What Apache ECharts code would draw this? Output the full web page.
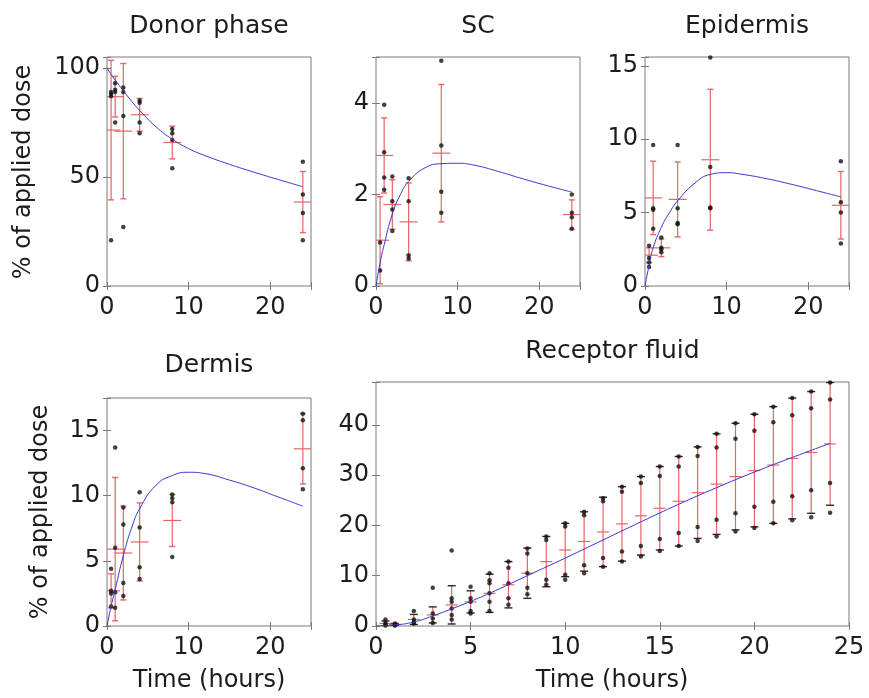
<!DOCTYPE html>
<html>
<head>
<meta charset="utf-8">
<script src="https://cdn.jsdelivr.net/npm/echarts@6/dist/echarts.min.js"></script>
<style>
  html, body { margin: 0; background: #fff; }
  #chart { width: 869px; height: 698px; }
</style>
</head>
<body>
<div id="chart"></div>
<script>
// sampling times (hours)
const skinTimes = [0.5, 1, 2, 4, 8, 24];
const skinFitTimes = [0, 0.5, 1, 2, 3, 4, 6, 8, 10, 12, 15, 18, 21, 24];
const rfTimes = [0.5, 1, 2, 3, 4, 5, 6, 7, 8, 9, 10, 11, 12, 13, 14, 15, 16, 17, 18, 19, 20, 21, 22, 23, 24];
const rfFitTimes = [0, 1, 2, 3, 4, 5, 6, 8, 10, 12, 14, 16, 18, 20, 22, 24];

// donor phase
const donorPoints = [[89, 87, 88, 21], [93, 90, 89, 75], [91, 89, 78, 27], [85, 84, 75, 70], [72, 70, 67, 54], [57, 42, 33.5, 21]];
const donorMean = [71.5, 86.8, 71, 78.5, 65.8, 38.5];
const donorSd = [32, 9.3, 31, 7.5, 7.5, 14];
const donorFit = [100, 97, 94.5, 89.5, 84.8, 80.5, 73, 67.3, 63, 59.8, 55.8, 52.2, 48.8, 45.5];

// stratum corneum
const scPoints = [[0.34, 0.95], [3.96, 2.92, 2.37, 2.1], [2.39, 1.85, 1.67, 1.2], [2.35, 1.85, 0.67, 0.6], [4.92, 3.07, 2.06, 1.6], [2.0, 1.6, 1.5, 1.25]];
const scMean = [1.0, 2.85, 1.78, 1.4, 2.9, 1.56];
const scSd = [0.95, 0.82, 0.54, 0.85, 1.5, 0.32];
const scFit = [0, 0.5, 0.9, 1.57, 2.0, 2.28, 2.58, 2.67, 2.68, 2.64, 2.5, 2.34, 2.19, 2.05];

// epidermis
const epiPoints = [[2.75, 1.9, 1.6, 1.3], [9.6, 5.3, 5.2, 3.9], [3.3, 2.6, 2.5, 2.3], [9.6, 5.3, 4.3, 4.2], [15.56, 8.1, 5.35, 5.3], [8.5, 5.7, 5.0, 2.9]];
const epiMean = [2.1, 6.0, 2.6, 5.9, 8.6, 5.5];
const epiSd = [0.5, 2.5, 0.6, 2.55, 4.8, 2.3];
const epiFit = [0, 1.4, 2.6, 4.0, 5.0, 5.8, 6.95, 7.6, 7.72, 7.6, 7.3, 6.92, 6.5, 6.07];

// dermis
const dermPoints = [[4.4, 2.7, 2.5, 1.5], [13.7, 6.0, 2.6, 1.4], [9.1, 7.8, 3.3, 2.3], [10.26, 7.56, 4.5, 3.6], [10.1, 9.8, 9.5, 5.3], [16.3, 15.8, 12.1, 10.5]];
const dermMean = [2.7, 5.9, 5.6, 6.45, 8.1, 13.6];
const dermSd = [1.3, 5.5, 3.6, 3.0, 2.0, 2.7];
const dermFit = [0, 1.5, 2.8, 5.4, 7.5, 9.0, 10.8, 11.55, 11.8, 11.7, 11.2, 10.6, 9.9, 9.2];

// receptor fluid
const rfPoints = [
  [1.3, 0.6, 0.3, 0.1], [0.5, 0.3, 0.2, 0.1], [3.0, 1.3, 0.8, 0.5], [7.6, 2.5, 1.5, 0.6],
  [15.0, 5.5, 4.8, 3.5, 2.2, 1.3], [7.8, 5.5, 4.8, 3.0, 2.5], [10.5, 9.1, 8.5, 6.5, 4.8, 3.0],
  [12.8, 11.6, 8.5, 5.5, 4.2], [15.4, 14.4, 10.5, 7.6, 6.3], [17.8, 17.1, 9.2, 8.2],
  [20.4, 19.8, 10.2, 9.2], [22.7, 22.0, 12.1, 10.5], [25.4, 24.8, 13.5, 11.8],
  [27.7, 26.7, 14.8, 12.8], [29.7, 28.4, 15.9, 13.8], [31.7, 29.8, 17.3, 14.9],
  [33.7, 31.7, 18.5, 15.9], [35.6, 33.8, 19.7, 16.9], [38.2, 35.5, 21.1, 17.8],
  [40.3, 37.2, 22.4, 18.8], [42.1, 38.8, 23.7, 19.5], [43.6, 40.5, 24.7, 20.4],
  [45.3, 41.9, 25.8, 21.0], [46.6, 43.3, 27.0, 21.6], [48.4, 45.0, 28.4, 22.5]
];
const rfMean = [0.5, 0.3, 1.3, 2.2, 4.2, 4.8, 6.5, 8.2, 10.5, 12.8, 15.1, 16.8, 18.7, 20.3, 21.9, 23.4, 24.8, 26.5, 28.2, 29.7, 30.9, 32.0, 33.3, 34.5, 36.2];
const rfSd = [0.5, 0.2, 1.0, 1.6, 3.8, 2.2, 3.8, 4.6, 5.0, 5.0, 5.3, 5.9, 6.9, 7.4, 7.8, 8.3, 8.9, 9.1, 10.0, 10.6, 11.2, 11.6, 12.0, 12.1, 12.2];
const rfFit = [0, 0.2, 0.8, 2.0, 3.4, 4.9, 6.5, 10.0, 13.5, 17.1, 20.7, 24.2, 27.5, 30.6, 33.5, 36.3];

const FONT = '"DejaVu Sans", sans-serif';
const TXT = '#1c1c1c';
const BOX = '#7a7a7a';

const panels = [
  { title: 'Donor phase', left: 107, top: 57, width: 204, height: 229, ymax: 105, yint: 50, xint: 10,
    times: skinTimes, pts: donorPoints, mean: donorMean, sd: donorSd, fitT: skinFitTimes, fit: donorFit },
  { title: 'SC', left: 376, top: 57, width: 204, height: 229, ymax: 5, yint: 2, xint: 10,
    times: skinTimes, pts: scPoints, mean: scMean, sd: scSd, fitT: skinFitTimes, fit: scFit },
  { title: 'Epidermis', left: 645, top: 57, width: 204, height: 229, ymax: 15.6, yint: 5, xint: 10,
    times: skinTimes, pts: epiPoints, mean: epiMean, sd: epiSd, fitT: skinFitTimes, fit: epiFit },
  { title: 'Dermis', left: 107, top: 398, width: 204, height: 228, ymax: 17.5, yint: 5, xint: 10,
    times: skinTimes, pts: dermPoints, mean: dermMean, sd: dermSd, fitT: skinFitTimes, fit: dermFit },
  { title: 'Receptor fluid', left: 376, top: 382, width: 473, height: 244, ymax: 48.5, yint: 10, xint: 5,
    times: rfTimes, pts: rfPoints, mean: rfMean, sd: rfSd, fitT: rfFitTimes, fit: rfFit, receptor: true }
];

function barRenderer(capW, meanW, capColor) {
  return (params, api) => {
    const t = api.value(0), m = api.value(1), s = api.value(2);
    const hi = api.coord([t, m + s]);
    const lo = api.coord([t, m - s]);
    const mid = api.coord([t, m]);
    const red = { stroke: '#e66565', lineWidth: 1.2 };
    const cap = { stroke: capColor, lineWidth: 1.4 };
    return {
      type: 'group',
      children: [
        { type: 'line', shape: { x1: hi[0], y1: hi[1], x2: lo[0], y2: lo[1] }, style: red },
        { type: 'line', shape: { x1: hi[0] - capW, y1: hi[1], x2: hi[0] + capW, y2: hi[1] }, style: cap },
        { type: 'line', shape: { x1: lo[0] - capW, y1: lo[1], x2: lo[0] + capW, y2: lo[1] }, style: cap },
        { type: 'line', shape: { x1: mid[0] - meanW, y1: mid[1], x2: mid[0] + meanW, y2: mid[1] }, style: red }
      ]
    };
  };
}

const only = step => v => (Math.abs(v / step - Math.round(v / step)) < 1e-6 ? String(v) : '');

const grid = [], xAxis = [], yAxis = [], series = [];
panels.forEach((p, i) => {
  grid.push({ left: p.left, top: p.top, width: p.width, height: p.height,
    show: true, borderColor: BOX, borderWidth: 1, backgroundColor: '#fff' });
  const tick = { show: true, inside: true, length: 4, lineStyle: { color: BOX } };
  xAxis.push({ type: 'value', gridIndex: i, min: 0, max: 25, interval: p.xint, position: 'bottom',
    axisLine: { show: false }, axisTick: tick, splitLine: { show: false },
    axisLabel: { color: TXT, fontFamily: FONT, fontSize: 24, margin: 10, formatter: only(p.xint) } });
  xAxis.push({ type: 'value', gridIndex: i, min: 0, max: 25, interval: p.xint, position: 'top',
    axisLine: { show: false }, axisTick: tick, splitLine: { show: false }, axisLabel: { show: false } });
  yAxis.push({ type: 'value', gridIndex: i, min: 0, max: p.ymax, interval: p.yint, position: 'left',
    axisLine: { show: false }, axisTick: tick, splitLine: { show: false },
    axisLabel: { color: TXT, fontFamily: FONT, fontSize: 24, margin: 7, formatter: only(p.yint) } });
  yAxis.push({ type: 'value', gridIndex: i, min: 0, max: p.ymax, interval: p.yint, position: 'right',
    axisLine: { show: false }, axisTick: tick, splitLine: { show: false }, axisLabel: { show: false } });

  const xi = 2 * i, yi = 2 * i;
  series.push({
    type: 'custom', xAxisIndex: xi, yAxisIndex: yi, z: 2, clip: true,
    renderItem: p.receptor ? barRenderer(4, 6, '#3a1f1f') : barRenderer(3, 9, '#e66565'),
    encode: { x: 0, y: 1 },
    data: p.times.map((t, k) => [t, p.mean[k], p.sd[k]])
  });
  series.push({
    type: 'scatter', xAxisIndex: xi, yAxisIndex: yi, z: 3, symbolSize: 4.5,
    itemStyle: { color: '#111' },
    data: p.times.flatMap((t, k) => p.pts[k].map(v => [t, v]))
  });
  series.push({
    type: 'line', xAxisIndex: xi, yAxisIndex: yi, z: 4, showSymbol: false, symbol: 'none',
    smooth: 0.5,
    lineStyle: { color: '#3838d0', width: 1 },
    data: p.fitT.map((t, k) => [t, p.fit[k]])
  });
});

const label = (text, x, y, size, rot) => ({
  type: 'text', x, y, rotation: rot || 0,
  style: { text, fill: TXT, font: size + 'px ' + FONT, align: 'center', verticalAlign: 'middle' }
});

const graphic = [
  ...panels.map((p, i) => label(p.title, p.left + p.width / 2, i < 3 ? 26 : (p.receptor ? 351 : 365), 25)),
  label('% of applied dose', 24, 172, 24, Math.PI / 2),
  label('% of applied dose', 41, 512, 24, Math.PI / 2),
  label('Time (hours)', 209, 681, 24),
  label('Time (hours)', 612, 681, 24)
];

const chart = echarts.init(document.getElementById('chart'), null, { renderer: 'canvas' });
chart.setOption({
  backgroundColor: '#fff',
  animation: false,
  grid, xAxis, yAxis, series, graphic
});
</script>
</body>
</html>
